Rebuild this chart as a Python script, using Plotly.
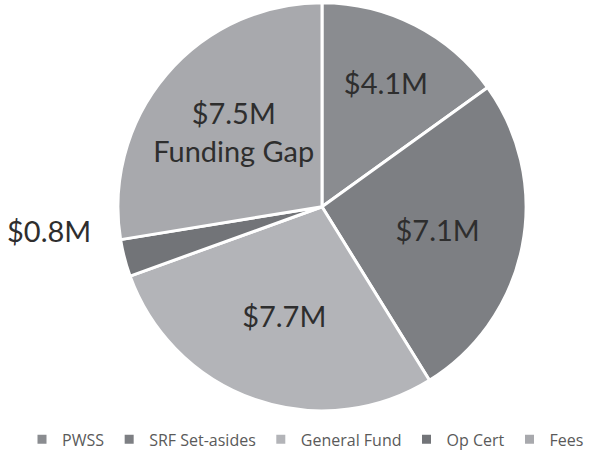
import plotly.graph_objects as go

# Funding sources, in millions of dollars
labels = ["PWSS", "SRF Set-asides", "General Fund", "Op Cert", "Fees"]
values = [4.1, 7.1, 7.7, 0.8, 7.5]
notes = ["", "", "", "", "Funding Gap"]
colors = ["#8a8c90", "#7d7f83", "#b3b4b8", "#727478", "#a8a9ad"]

slice_text = []
for v, n in zip(values, notes):
    t = f"${v}M"
    if n:
        t += "<br>" + n
    slice_text.append(t)

# the small slice gets its label outside, to the left
positions = ["inside", "inside", "inside", "none", "inside"]

label_font = dict(family="Lato, 'Open Sans', sans-serif", size=29, color="#2e2e2e")

fig = go.Figure(
    go.Pie(
        labels=labels,
        values=values,
        text=slice_text,
        textinfo="text",
        textposition=positions,
        insidetextorientation="horizontal",
        sort=False,
        direction="clockwise",
        rotation=0,
        marker=dict(colors=colors, line=dict(color="white", width=3)),
        textfont=label_font,
        domain=dict(x=[0.193, 0.861], y=[0.108, 0.995]),
        hoverinfo="label+value",
    )
)

fig.add_annotation(
    text=f"${values[3]}M",
    x=0.152, y=0.50, xref="paper", yref="paper",
    xanchor="right", yanchor="middle", showarrow=False,
    font=label_font,
)

fig.update_layout(
    width=611,
    height=461,
    margin=dict(l=0, r=0, t=0, b=0),
    paper_bgcolor="white",
    plot_bgcolor="white",
    showlegend=True,
    legend=dict(
        orientation="h",
        x=0.5, xanchor="center",
        y=0.01, yanchor="bottom",
        font=dict(family="'Open Sans', sans-serif", size=16, color="#5a5a5a"),
        itemwidth=30,
        traceorder="normal",
    ),
)

fig.write_html("out.html")
